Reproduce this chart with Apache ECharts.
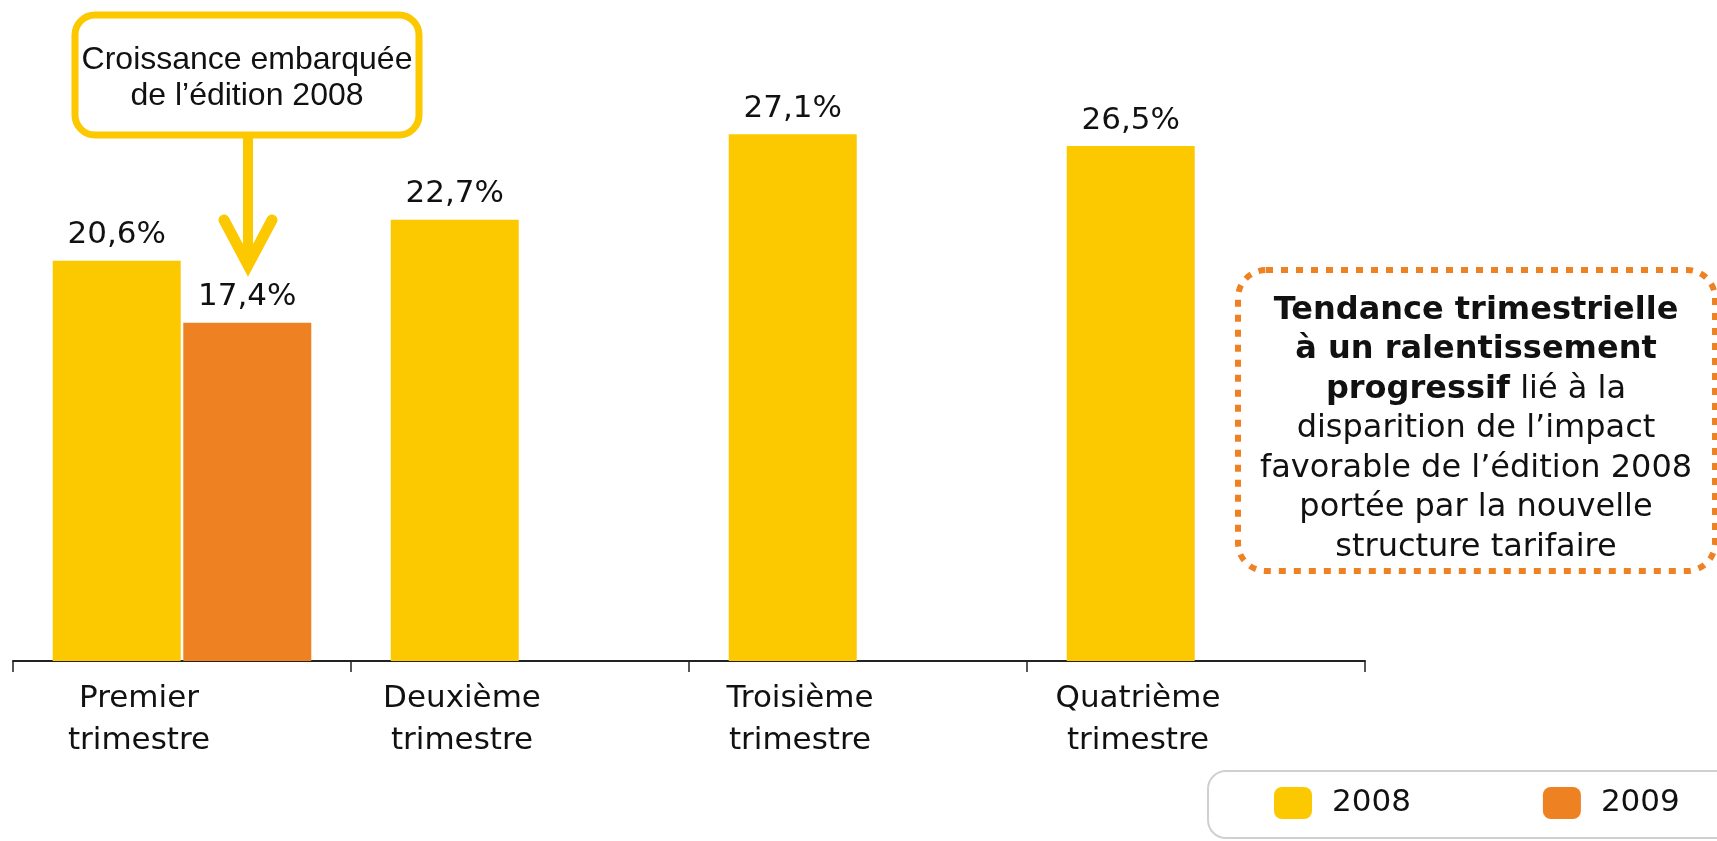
<!DOCTYPE html>
<html>
<head>
<meta charset="utf-8">
<script src="https://cdn.jsdelivr.net/npm/echarts@6/dist/echarts.min.js"></script>
<style>
  html, body { margin: 0; padding: 0; background: #ffffff; }
  #chart { width: 1717px; height: 841px; }
</style>
</head>
<body>
<div id="chart"></div>
<script>
const categories = ['Premier\ntrimestre', 'Deuxième\ntrimestre', 'Troisième\ntrimestre', 'Quatrième\ntrimestre'];
const values2008 = [20.6, 22.7, 27.1, 26.5];
const values2009 = [17.4, null, null, null];

const YELLOW = '#fcc800';
const ORANGE = '#ee8223';
const FONT = 'DejaVu Sans';

const chart = echarts.init(document.getElementById('chart'));

function pct(p) {
  return p.value.toFixed(1).replace('.', ',') + '%';
}

const valueLabel = {
  show: true,
  position: 'top',
  distance: 10,
  fontFamily: FONT,
  fontSize: 31,
  color: '#111',
  formatter: pct
};

chart.setOption({
  animation: false,
  grid: {left: 13, right: 352, top: 78, bottom: 180},
  legend: {
    data: ['2008', '2009'],
    left: 1208,
    top: 771,
    orient: 'horizontal',
    padding: [16, 20, 16, 66],
    itemGap: 132,
    itemWidth: 38,
    itemHeight: 32,
    icon: 'roundRect',
    textStyle: {fontFamily: FONT, fontSize: 31, color: '#111', padding: [0, 0, 0, 15]}
  },
  xAxis: {
    type: 'category',
    data: categories.map((c, i) => ({value: c, textStyle: {padding: [0, i === 0 ? 86 : 116, 0, 0]}})),
    axisLine: {lineStyle: {color: '#222', width: 2}},
    axisTick: {show: true, length: 11, lineStyle: {color: '#222', width: 1.5}},
    axisLabel: {
      fontFamily: FONT,
      fontSize: 31,
      lineHeight: 42,
      color: '#111',
      margin: 17,
      interval: 0
    }
  },
  yAxis: {
    type: 'value',
    min: 0,
    max: 30,
    show: false,
    splitLine: {show: false}
  },
  series: [
    {
      name: '2008',
      type: 'bar',
      data: values2008,
      barWidth: 128,
      barGap: '2%',
      itemStyle: {color: YELLOW},
      label: valueLabel
    },
    {
      name: '2009',
      type: 'bar',
      data: values2009,
      barWidth: 128,
      itemStyle: {color: ORANGE},
      label: valueLabel
    }
  ],
  graphic: [
    // cadre de la légende (déborde à droite)
    {
      type: 'rect',
      shape: {x: 1208, y: 771, width: 560, height: 67, r: 18},
      style: {fill: null, stroke: '#d0d0d0', lineWidth: 2},
      z: 1
    },
    // encadré jaune en haut à gauche
    {
      type: 'rect',
      shape: {x: 75, y: 15, width: 344, height: 120, r: 20},
      style: {fill: '#fff', stroke: YELLOW, lineWidth: 7},
      z: 10
    },
    {
      type: 'text',
      x: 247,
      y: 78,
      style: {
        text: 'Croissance embarquée\nde l’édition 2008',
        fontFamily: 'Liberation Sans',
        fontSize: 32,
        lineHeight: 36,
        fill: '#111',
        align: 'center',
        verticalAlign: 'middle'
      },
      z: 11
    },
    // flèche
    {
      type: 'line',
      shape: {x1: 248, y1: 138, x2: 248, y2: 262},
      style: {stroke: YELLOW, lineWidth: 10},
      z: 10
    },
    {
      type: 'polyline',
      shape: {points: [[224, 220], [248, 265], [272, 220]]},
      style: {stroke: YELLOW, lineWidth: 11, lineCap: 'round', lineJoin: 'miter', fill: null},
      z: 10
    },
    // encadré pointillé à droite
    {
      type: 'rect',
      shape: {x: 1238, y: 270, width: 477, height: 301, r: 28},
      style: {fill: null, stroke: ORANGE, lineWidth: 6, lineDash: [7, 8]},
      z: 10
    },
    {
      type: 'text',
      x: 1476,
      y: 429,
      style: {
        text: '{b|Tendance trimestrielle}\n{b|à un ralentissement}\n{b|progressif}{r| lié à la}\n{r|disparition de l’impact}\n{r|favorable de l’édition 2008}\n{r|portée par la nouvelle}\n{r|structure tarifaire}',
        align: 'center',
        verticalAlign: 'middle',
        rich: {
          b: {fontFamily: FONT, fontSize: 32, fontWeight: 'bold', lineHeight: 39.5, fill: '#111', align: 'center'},
          r: {fontFamily: FONT, fontSize: 32, lineHeight: 39.5, fill: '#111', align: 'center'}
        }
      },
      z: 11
    }
  ]
});
</script>
</body>
</html>
